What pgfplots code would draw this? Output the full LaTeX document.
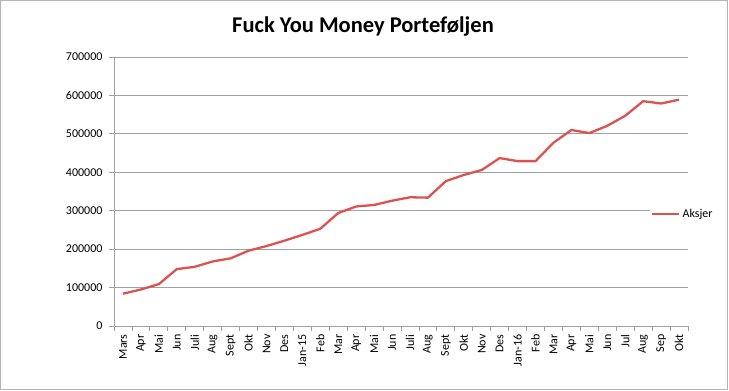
\documentclass[border=0pt]{standalone}
\usepackage{pgfplots}
\pgfplotsset{compat=1.18}
\usepackage{fontspec}
\setmainfont{Carlito}
\definecolor{exred}{RGB}{220,82,80}
\definecolor{gridgray}{RGB}{160,160,160}
\definecolor{bordergray}{RGB}{180,180,180}
\begin{document}
\begin{tikzpicture}
\path (0pt,0pt) rectangle (729pt,391pt);
\draw[bordergray, line width=1pt] (0.5pt,1.5pt) rectangle (727.5pt,390.5pt);
\node[font=\fontsize{22.5}{26}\selectfont\bfseries, anchor=base] at (363pt,358pt) {Fuck You Money Porteføljen};
\begin{axis}[
  at={(114pt,65pt)}, anchor=south west,
  scale only axis, width=574pt, height=269pt,
  xmin=-0.5, xmax=31.5, ymin=0, ymax=700000,
  axis x line=bottom, axis y line=left,
  axis line style={draw=gridgray, line width=0.8pt, -},
  xtick={0,...,31},
  xticklabels={Mars,Apr,Mai,Jun,Juli,Aug,Sept,Okt,Nov,Des,Jan-15,Feb,Mar,Apr,Mai,Jun,Juli,Aug,Sept,Okt,Nov,Des,Jan-16,Feb,Mar,Apr,Mai,Jun,Jul,Aug,Sep,Okt},
  xticklabel style={rotate=90, anchor=east, font=\fontsize{12}{14}\selectfont},
  major x tick style={draw=none},
  minor xtick={-0.5,0.5,...,31.5},
  minor x tick style={draw=gridgray, line width=0.8pt},
  minor tick length=5pt,
  ytick={0,100000,...,700000},
  y tick style={draw=gridgray, line width=0.8pt},
  major tick length=5pt,
  tick align=outside,
  scaled y ticks=false,
  yticklabel style={font=\fontsize{12}{14}\selectfont, xshift=-3pt, /pgf/number format/fixed, /pgf/number format/1000 sep={}},
  /pgf/number format/assume math mode=true,
  ymajorgrids,
  major grid style={draw=gridgray, line width=0.8pt},
  legend style={at={(0.934,0.416)}, anchor=west, draw=none, fill=white, font=\fontsize{12}{14}\selectfont, inner sep=1pt},
  legend cell align=left,
  legend image code/.code={\draw[#1] (2pt,0pt) -- (29pt,0pt);},
  clip=false,
]
\addplot[exred, line width=2.3pt, line join=round] coordinates {
(0,84000) (1,95000) (2,109000) (3,148000) (4,154000) (5,168000) (6,176000) (7,196000)
(8,208000) (9,222000) (10,237000) (11,253000) (12,294000) (13,311000) (14,315000)
(15,326000) (16,335000) (17,334000) (18,377000) (19,393000) (20,406000) (21,437000)
(22,429000) (23,429000) (24,477000) (25,510000) (26,502000) (27,521000) (28,547000)
(29,585000) (30,579000) (31,589000)
};
\addlegendentry{Aksjer}
\end{axis}
\end{tikzpicture}
\end{document}
